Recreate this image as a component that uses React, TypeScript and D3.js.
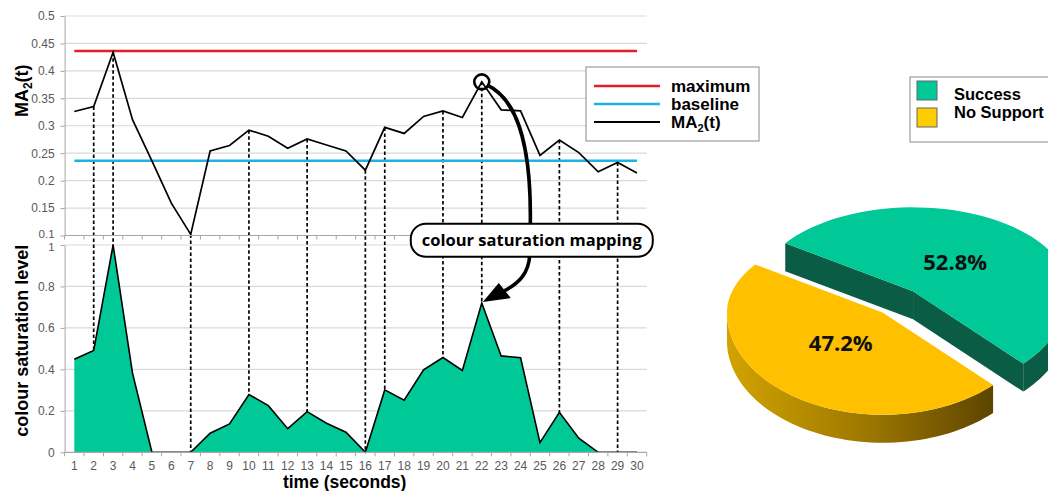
import * as d3 from "d3";
import { useEffect, useRef } from "react";

// time axis (seconds)
const times = [1, 2, 3, 4, 5, 6, 7, 8, 9, 10, 11, 12, 13, 14, 15, 16, 17, 18, 19, 20, 21, 22, 23, 24, 25, 26, 27, 28, 29, 30];
// MA2(t) series (top chart)
const ma2 = [0.326, 0.335, 0.434, 0.311, 0.236, 0.159, 0.102, 0.254, 0.264, 0.292, 0.281, 0.259, 0.276, 0.265, 0.254, 0.219, 0.297, 0.286, 0.317, 0.327, 0.315, 0.38, 0.329, 0.327, 0.246, 0.274, 0.251, 0.216, 0.233, 0.214];
// colour saturation level (bottom chart)
const saturation = [0.449, 0.491, 1.0, 0.382, 0, 0, 0, 0.092, 0.137, 0.279, 0.225, 0.114, 0.196, 0.14, 0.097, 0, 0.301, 0.251, 0.398, 0.457, 0.395, 0.72, 0.465, 0.456, 0.047, 0.193, 0.068, 0, 0, 0];
const maximumLevel = 0.436;
const baselineLevel = 0.236;
// times with dashed drop lines
const mappedTimes = [2, 3, 7, 10, 13, 16, 17, 20, 22, 26, 29];
const calloutTime = 22;
const topTicks = [0.1, 0.15, 0.2, 0.25, 0.3, 0.35, 0.4, 0.45, 0.5];
const bottomTicks = [0, 0.2, 0.4, 0.6, 0.8, 1];

const pieLabels = ["Success", "No Support"];
const pieValues = [52.8, 47.2];

const GREEN = "#00c896";
const GREEN_SIDE = "#0b5c45";
const YELLOW = "#ffc000";
const RED = "#e41e26";
const CYAN = "#1fb1e6";
const AXIS = "#a6a6a6";
const GRID = "#d9d9d9";
const SANS = "'Liberation Sans', Arial, sans-serif";

const App = () => {
  const svgRef = useRef<SVGSVGElement | null>(null);

  useEffect(() => {
    const svg = d3.select(svgRef.current);
    svg.selectAll("*").remove();

    const x = d3.scaleBand<number>().domain(times).range([64.6, 646.7]);
    const xc = (t: number) => (x(t) ?? 0) + x.bandwidth() / 2;
    const yTop = d3.scaleLinear().domain([0.1, 0.5]).range([235.5, 16]);
    const yBot = d3.scaleLinear().domain([0, 1]).range([452.3, 245]);
    const [x0, x1] = x.range();

    // gridlines
    svg.append("g").selectAll("line").data(topTicks.slice(1)).join("line")
      .attr("x1", x0).attr("x2", x1)
      .attr("y1", d => yTop(d)).attr("y2", d => yTop(d))
      .attr("stroke", GRID).attr("stroke-width", 1.2);
    svg.append("g").selectAll("line").data(bottomTicks.slice(1)).join("line")
      .attr("x1", x0).attr("x2", x1)
      .attr("y1", d => yBot(d)).attr("y2", d => yBot(d))
      .attr("stroke", GRID).attr("stroke-width", 1.2);

    // dashed drop lines
    svg.append("g").selectAll("line").data(mappedTimes).join("line")
      .attr("x1", d => xc(d)).attr("x2", d => xc(d))
      .attr("y1", d => yTop(ma2[d - 1])).attr("y2", yBot(0))
      .attr("stroke", "#000").attr("stroke-width", 1.7).attr("stroke-dasharray", "3.5,2.5");

    // saturation area
    const area = d3.area<number>()
      .x((_, i) => xc(times[i]))
      .y0(yBot(0))
      .y1(d => yBot(d));
    svg.append("path").attr("d", area(saturation)).attr("fill", GREEN);
    const satLine = d3.line<number>().x((_, i) => xc(times[i])).y(d => yBot(d));
    svg.append("path").attr("d", satLine(saturation))
      .attr("fill", "none").attr("stroke", "#000").attr("stroke-width", 1.6);

    // maximum / baseline
    svg.append("line")
      .attr("x1", xc(times[0])).attr("x2", xc(times[times.length - 1]))
      .attr("y1", yTop(maximumLevel)).attr("y2", yTop(maximumLevel))
      .attr("stroke", RED).attr("stroke-width", 2.5);
    svg.append("line")
      .attr("x1", xc(times[0])).attr("x2", xc(times[times.length - 1]))
      .attr("y1", yTop(baselineLevel)).attr("y2", yTop(baselineLevel))
      .attr("stroke", CYAN).attr("stroke-width", 2.5);

    // MA2 line
    const maLine = d3.line<number>().x((_, i) => xc(times[i])).y(d => yTop(d));
    svg.append("path").attr("d", maLine(ma2))
      .attr("fill", "none").attr("stroke", "#000").attr("stroke-width", 1.7);

    // y axes
    const styleAxis = (g: d3.Selection<SVGGElement, unknown, null, undefined>) => {
      g.select(".domain").attr("stroke", AXIS);
      g.selectAll(".tick line").attr("stroke", AXIS);
      g.selectAll(".tick text").attr("fill", "#595959").style("font-family", SANS).style("font-size", "12px");
    };
    const topAxis = svg.append("g").attr("transform", `translate(${x0},0)`)
      .call(d3.axisLeft(yTop).tickValues(topTicks).tickFormat(d => String(d)).tickSize(4).tickSizeOuter(0).tickPadding(6))
      .call(styleAxis);
    const botAxis = svg.append("g").attr("transform", `translate(${x0},0)`)
      .call(d3.axisLeft(yBot).tickValues(bottomTicks).tickFormat(d => String(d)).tickSize(4).tickSizeOuter(0).tickPadding(6))
      .call(styleAxis);
    // the two stacked labels at the seam sit very close, nudge them apart a bit
    topAxis.selectAll<SVGTextElement, number>(".tick text").filter(d => d === 0.1).attr("y", -1.5).style("font-size", "11.5px");
    botAxis.selectAll<SVGTextElement, number>(".tick text").filter(d => d === 1).attr("y", 1.5).style("font-size", "11.5px");

    // x axes (ticks between categories)
    const bounds = [...times.map(t => x(t) ?? 0), x1];
    [yTop(0.1), yBot(0)].forEach(yy => {
      const g = svg.append("g");
      g.append("line").attr("x1", x0).attr("x2", x1).attr("y1", yy).attr("y2", yy)
        .attr("stroke", AXIS).attr("stroke-width", 1.2);
      g.selectAll("line.tk").data(bounds).join("line").attr("class", "tk")
        .attr("x1", d => d).attr("x2", d => d).attr("y1", yy).attr("y2", yy + 4)
        .attr("stroke", AXIS);
    });
    svg.append("g").selectAll("text").data(times).join("text")
      .attr("x", d => xc(d)).attr("y", yBot(0) + 17.5)
      .attr("text-anchor", "middle")
      .attr("fill", "#595959").style("font-family", SANS).style("font-size", "12px")
      .text(d => String(d));

    // axis titles
    svg.append("text")
      .attr("transform", `translate(28,${(yTop(0.5) + yTop(0.1)) / 2 - 35}) rotate(-90)`)
      .attr("text-anchor", "middle")
      .style("font-family", SANS).style("font-size", "18px").style("font-weight", "bold")
      .call(t => {
        t.append("tspan").text("MA");
        t.append("tspan").text("2").attr("dy", 4).style("font-size", "12px");
        t.append("tspan").text("(t)").attr("dy", -4);
      });
    svg.append("text")
      .attr("transform", `translate(28,${(yBot(0) + yBot(1)) / 2 - 8}) rotate(-90)`)
      .attr("text-anchor", "middle")
      .style("font-family", SANS).style("font-size", "18px").style("font-weight", "bold")
      .text("colour saturation level");
    svg.append("text")
      .attr("x", (x0 + x1) / 2 - 11).attr("y", 487.5)
      .attr("text-anchor", "middle")
      .style("font-family", SANS).style("font-size", "17.5px").style("font-weight", "bold")
      .text("time (seconds)");

    // callout
    const px = xc(calloutTime);
    const pyTop = yTop(ma2[calloutTime - 1]);
    const pyBot = yBot(saturation[calloutTime - 1]);
    const boxCy = (yTop(0.1) + yBot(1)) / 2;
    const boxTop = boxCy - 16.5;
    const boxBottom = boxCy + 16.5;
    svg.append("circle").attr("cx", px).attr("cy", pyTop).attr("r", 7.5)
      .attr("fill", "none").attr("stroke", "#000").attr("stroke-width", 2.6);
    svg.append("path")
      .attr("d", `M${px + 5},${pyTop + 3} C${px + 33},${pyTop + 16} ${px + 50},${pyTop + 56} ${px + 48.5},${boxTop + 2}`)
      .attr("fill", "none").attr("stroke", "#000").attr("stroke-width", 3.6);
    svg.append("path")
      .attr("d", `M${px + 48},${boxBottom - 2} C${px + 47},${boxBottom + 16} ${px + 38},${pyBot - 20} ${px + 22},${pyBot - 12}`)
      .attr("fill", "none").attr("stroke", "#000").attr("stroke-width", 3.6);
    svg.append("path")
      .attr("d", `M${px + 1},${pyBot - 1} L${px + 17},${pyBot - 20} L${px + 29},${pyBot - 5} Z`)
      .attr("fill", "#000");
    svg.append("rect")
      .attr("x", px - 71).attr("y", boxTop).attr("width", 242).attr("height", boxBottom - boxTop)
      .attr("rx", 15).attr("fill", "#fff").attr("stroke", "#000").attr("stroke-width", 2);
    svg.append("text")
      .attr("x", px + 50).attr("y", boxCy + 1)
      .attr("text-anchor", "middle").attr("dominant-baseline", "middle")
      .style("font-family", "'Open Sans', sans-serif").style("font-size", "16.5px").style("font-weight", "bold")
      .text("colour saturation mapping");

    // legend for the line chart
    const lg = svg.append("g").attr("transform", "translate(586,67)");
    lg.append("rect").attr("width", 173).attr("height", 74).attr("fill", "#fff").attr("stroke", "#888");
    const legendItems = [
      { name: "maximum", color: RED, w: 2.5 },
      { name: "baseline", color: CYAN, w: 2.5 },
      { name: "MA2(t)", color: "#000", w: 2 },
    ];
    legendItems.forEach((it, i) => {
      const yy = 19 + i * 18;
      lg.append("line").attr("x1", 8).attr("x2", 74).attr("y1", yy).attr("y2", yy)
        .attr("stroke", it.color).attr("stroke-width", it.w);
      const t = lg.append("text").attr("x", 85).attr("y", yy + 6)
        .style("font-family", SANS).style("font-size", "17px").style("font-weight", "bold");
      if (it.name === "MA2(t)") {
        t.append("tspan").text("MA");
        t.append("tspan").text("2").attr("dy", 4).style("font-size", "11px");
        t.append("tspan").text("(t)").attr("dy", -4);
      } else {
        t.text(it.name);
      }
    });

    // legend for the pie
    const pl = svg.append("g").attr("transform", "translate(910,77)");
    pl.append("rect").attr("width", 160).attr("height", 65).attr("fill", "#fff").attr("stroke", "#888");
    const pieColors = [GREEN, "#ffcc00"];
    pieLabels.forEach((name, i) => {
      pl.append("rect").attr("x", 7).attr("y", 4 + i * 27).attr("width", 20).attr("height", 19)
        .attr("fill", pieColors[i]).attr("stroke", "#666");
      pl.append("text").attr("x", 44).attr("y", 23 + i * 18)
        .style("font-family", SANS).style("font-size", "16.5px").style("font-weight", "bold")
        .text(name);
    });

    // 3D exploded pie
    const defs = svg.append("defs");
    const grad = defs.append("linearGradient").attr("id", "ySide")
      .attr("gradientUnits", "userSpaceOnUse").attr("x1", 727).attr("x2", 995).attr("y1", 0).attr("y2", 0);
    grad.append("stop").attr("offset", "0").attr("stop-color", "#d2a300");
    grad.append("stop").attr("offset", "0.5").attr("stop-color", "#a07a00");
    grad.append("stop").attr("offset", "1").attr("stop-color", "#5c4400");

    const P = { cx: 898, cy: 301, rx: 156, ryT: 84, ryB: 102, depth: 28, explode: 0.15 };
    const proj = (cx: number, cy: number, th: number, r: number): [number, number] => {
      const s = Math.sin(th);
      return [cx + P.rx * r * Math.cos(th), cy + (s < 0 ? P.ryT : P.ryB) * r * s];
    };
    const start = (305 * Math.PI) / 180;
    const arcs = d3.pie<number>().sort(null).startAngle(start).endAngle(start + 2 * Math.PI)(pieValues);
    const topFill = [GREEN, YELLOW];
    const sideFill = [GREEN_SIDE, "url(#ySide)"];
    const pts = (a: [number, number][]) => "M" + a.map(p => p.join(",")).join("L") + "Z";

    arcs.forEach((a, i) => {
      const t0 = a.startAngle - Math.PI / 2;
      const t1 = a.endAngle - Math.PI / 2;
      const tm = (t0 + t1) / 2;
      const [cx, cy] = proj(P.cx, P.cy, tm, P.explode);
      const sample = (lo: number, hi: number) => d3.range(0, 61).map(k => lo + ((hi - lo) * k) / 60);
      const g = svg.append("g");

      // radial faces
      const faces: number[] = [];
      if (Math.cos(t0) < 0) faces.push(t0);
      if (Math.cos(t1) > 0) faces.push(t1);
      faces.forEach(th => {
        const p = proj(cx, cy, th, 1);
        g.append("path")
          .attr("d", pts([[cx, cy], p, [p[0], p[1] + P.depth], [cx, cy + P.depth]]))
          .attr("fill", sideFill[i]);
      });

      // front outer wall
      [-1, 0, 1].forEach(k => {
        const lo = Math.max(t0, 2 * Math.PI * k);
        const hi = Math.min(t1, 2 * Math.PI * k + Math.PI);
        if (hi > lo) {
          const top = sample(lo, hi).map(th => proj(cx, cy, th, 1));
          const bot = top.slice().reverse().map(p => [p[0], p[1] + P.depth] as [number, number]);
          g.append("path").attr("d", pts([...top, ...bot])).attr("fill", sideFill[i]);
        }
      });

      // top face
      const rim = sample(t0, t1).map(th => proj(cx, cy, th, 1));
      g.append("path").attr("d", pts([[cx, cy], ...rim])).attr("fill", topFill[i]);

      const [lx, ly] = proj(cx, cy, tm, 0.42);
      g.append("text").attr("x", lx).attr("y", ly)
        .attr("text-anchor", "middle").attr("dominant-baseline", "middle")
        .style("font-family", "'Open Sans', sans-serif").style("font-size", "22px").style("font-weight", "bold")
        .attr("fill", "#111")
        .text(`${a.data.toFixed(1)}%`);
    });
  }, []);

  return (
    <svg
      ref={svgRef}
      width={1048}
      height={491}
      style={{ position: "absolute", left: 0, top: 0, background: "#fff" }}
    ></svg>
  );
};

export default App;
